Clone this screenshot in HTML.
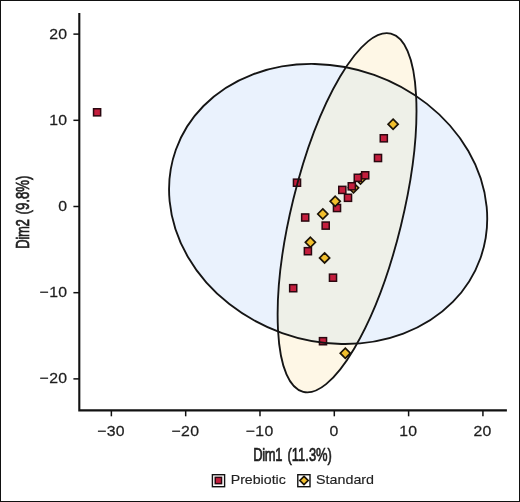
<!DOCTYPE html>
<html><head><meta charset="utf-8"><style>
html,body{margin:0;padding:0;background:#fff;}
body{width:520px;height:502px;overflow:hidden;position:relative;}
svg{position:absolute;left:0;top:0;display:block;}
.sq{fill:#c41e3d;stroke:#2a0810;stroke-width:1.5;}
.dm{fill:#f1bf2d;stroke:#1c1408;stroke-width:1.7;}
.ax{stroke:#111;stroke-width:2.1;fill:none;}
.tkl{stroke:#111;stroke-width:1.5;fill:none;}
.tk{font-family:"Liberation Sans",sans-serif;font-size:14.8px;fill:#1e1e1e;stroke:#1e1e1e;stroke-width:0.25px;letter-spacing:0.3px;}
.ttl{font-family:"Liberation Sans",sans-serif;font-size:18px;fill:#1e1e1e;stroke:#1e1e1e;stroke-width:0.7px;}
.lg{font-family:"Liberation Sans",sans-serif;font-size:13.5px;fill:#222;stroke:#222;stroke-width:0.15px;}
</style></head><body>
<svg width="520" height="502" viewBox="0 0 520 502">
<defs><clipPath id="cb"><ellipse cx="328.14" cy="203.97" rx="161.66" ry="137.06" transform="rotate(19.6 328.14 203.97)" /></clipPath></defs>
<rect x="0.5" y="0.5" width="519" height="501" fill="#fff" stroke="#111" stroke-width="1"/>
<ellipse cx="328.14" cy="203.97" rx="161.66" ry="137.06" transform="rotate(19.6 328.14 203.97)" fill="#eaf2fd"/>
<ellipse cx="347.06" cy="212.76" rx="184.4" ry="55.39" transform="rotate(103.75 347.06 212.76)" fill="#fef7e6"/>
<g clip-path="url(#cb)"><ellipse cx="347.06" cy="212.76" rx="184.4" ry="55.39" transform="rotate(103.75 347.06 212.76)" fill="#eef0e8"/></g>
<path d="M360.50 173.95L365.55 179.00L360.50 184.05L355.45 179.00Z" class="dm"/><path d="M353.50 182.75L358.55 187.80L353.50 192.85L348.45 187.80Z" class="dm"/><path d="M310.40 237.25L315.45 242.30L310.40 247.35L305.35 242.30Z" class="dm"/><rect x="93.55" y="108.75" width="7.10" height="7.10" class="sq"/><rect x="293.45" y="179.15" width="7.10" height="7.10" class="sq"/><rect x="301.65" y="213.95" width="7.10" height="7.10" class="sq"/><rect x="304.35" y="247.65" width="7.10" height="7.10" class="sq"/><rect x="289.65" y="284.65" width="7.10" height="7.10" class="sq"/><rect x="322.15" y="222.05" width="7.10" height="7.10" class="sq"/><rect x="333.45" y="204.45" width="7.10" height="7.10" class="sq"/><rect x="329.45" y="274.15" width="7.10" height="7.10" class="sq"/><rect x="319.45" y="337.65" width="7.10" height="7.10" class="sq"/><rect x="338.75" y="186.35" width="7.10" height="7.10" class="sq"/><rect x="344.45" y="194.25" width="7.10" height="7.10" class="sq"/><rect x="348.25" y="182.75" width="7.10" height="7.10" class="sq"/><rect x="354.25" y="174.25" width="7.10" height="7.10" class="sq"/><rect x="361.65" y="171.75" width="7.10" height="7.10" class="sq"/><rect x="374.45" y="154.45" width="7.10" height="7.10" class="sq"/><rect x="380.25" y="134.75" width="7.10" height="7.10" class="sq"/><path d="M393.10 119.15L398.15 124.20L393.10 129.25L388.05 124.20Z" class="dm"/><path d="M335.20 196.25L340.25 201.30L335.20 206.35L330.15 201.30Z" class="dm"/><path d="M322.80 208.95L327.85 214.00L322.80 219.05L317.75 214.00Z" class="dm"/><path d="M324.60 252.85L329.65 257.90L324.60 262.95L319.55 257.90Z" class="dm"/><path d="M345.30 348.15L350.35 353.20L345.30 358.25L340.25 353.20Z" class="dm"/>
<ellipse cx="328.14" cy="203.97" rx="161.66" ry="137.06" transform="rotate(19.6 328.14 203.97)" fill="none" stroke="#151515" stroke-width="1.85"/>
<ellipse cx="347.06" cy="212.76" rx="184.4" ry="55.39" transform="rotate(103.75 347.06 212.76)" fill="none" stroke="#151515" stroke-width="1.85"/>
<path d="M79.3 13V410.4H506.9" class="ax"/>
<line x1="111.37" y1="410" x2="111.37" y2="416.3" class="tkl"/><text transform="translate(111.07 435.7) scale(1.07 1)" text-anchor="middle" class="tk">−30</text><line x1="185.68" y1="410" x2="185.68" y2="416.3" class="tkl"/><text transform="translate(185.38 435.7) scale(1.07 1)" text-anchor="middle" class="tk">−20</text><line x1="259.99" y1="410" x2="259.99" y2="416.3" class="tkl"/><text transform="translate(259.69 435.7) scale(1.07 1)" text-anchor="middle" class="tk">−10</text><line x1="334.30" y1="410" x2="334.30" y2="416.3" class="tkl"/><text transform="translate(334.00 435.7) scale(1.07 1)" text-anchor="middle" class="tk">0</text><line x1="408.61" y1="410" x2="408.61" y2="416.3" class="tkl"/><text transform="translate(408.31 435.7) scale(1.07 1)" text-anchor="middle" class="tk">10</text><line x1="482.92" y1="410" x2="482.92" y2="416.3" class="tkl"/><text transform="translate(482.62 435.7) scale(1.07 1)" text-anchor="middle" class="tk">20</text><line x1="73.4" y1="378.88" x2="79.5" y2="378.88" class="tkl"/><text transform="translate(67.4 383.48) scale(1.07 1)" text-anchor="end" class="tk">−20</text><line x1="73.4" y1="292.69" x2="79.5" y2="292.69" class="tkl"/><text transform="translate(67.4 297.29) scale(1.07 1)" text-anchor="end" class="tk">−10</text><line x1="73.4" y1="206.50" x2="79.5" y2="206.50" class="tkl"/><text transform="translate(67.4 211.10) scale(1.07 1)" text-anchor="end" class="tk">0</text><line x1="73.4" y1="120.31" x2="79.5" y2="120.31" class="tkl"/><text transform="translate(67.4 124.91) scale(1.07 1)" text-anchor="end" class="tk">10</text><line x1="73.4" y1="34.12" x2="79.5" y2="34.12" class="tkl"/><text transform="translate(67.4 38.72) scale(1.07 1)" text-anchor="end" class="tk">20</text>
<text transform="translate(292.6 461.4) scale(0.72 1)" text-anchor="middle" class="ttl"><tspan style="letter-spacing:-0.5px">Dim1</tspan><tspan dx="2.6"> (11.3%)</tspan></text>
<text transform="translate(28.6 212.2) rotate(-90) scale(0.73 1)" text-anchor="middle" class="ttl"><tspan style="letter-spacing:-0.5px">Dim2</tspan><tspan dx="2.0"> (9.8%)</tspan></text>
<rect x="212.4" y="474.7" width="12.2" height="12.0" fill="#fff" stroke="#111" stroke-width="1.4"/>
<rect x="215.25" y="477.35" width="6.30" height="6.30" class="sq"/>
<text transform="translate(230.7 484.4) scale(1.05 1)" class="lg">Prebiotic</text>
<rect x="297.8" y="474.7" width="12.2" height="12.0" fill="#fff" stroke="#111" stroke-width="1.4"/>
<path d="M304.00 476.35L308.15 480.50L304.00 484.65L299.85 480.50Z" class="dm"/>
<text transform="translate(316.0 484.4) scale(1.06 1)" class="lg">Standard</text>
</svg>
</body></html>
